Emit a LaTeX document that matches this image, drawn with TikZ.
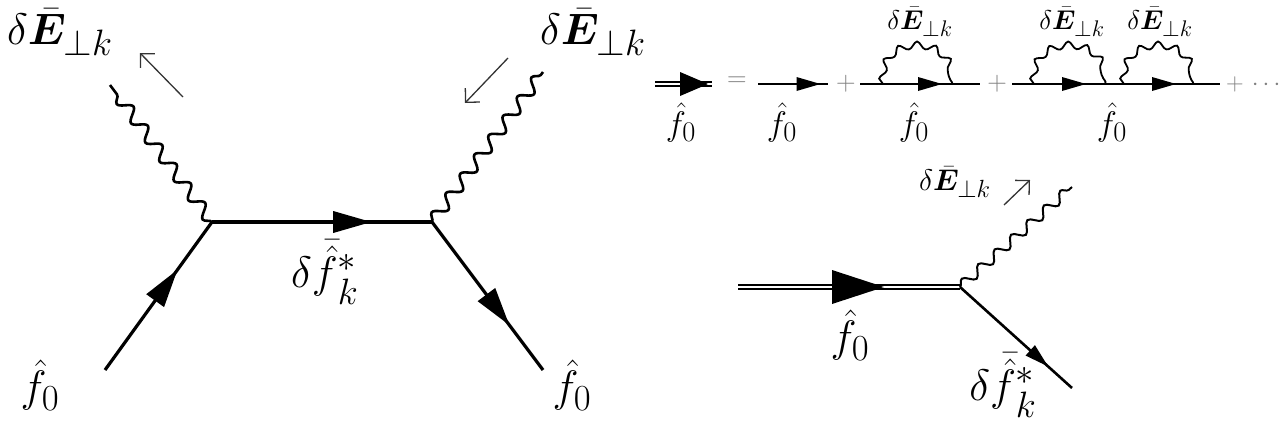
\documentclass[tikz,border=0pt]{standalone}
\usepackage{amsmath,bm}
\usetikzlibrary{arrows.meta,decorations.pathmorphing,decorations.markings}
\newcommand\dEk{\delta\bar{\bm{E}}_{\perp k}}
\newcommand\dFk{\delta\bar{\hat{f}}{}^{*}_{k}}
\newcommand\fz{\hat{f}_0}
\tikzset{
  fer/.style={line width=3.2pt,postaction={decorate},decoration={markings,mark=at position #1 with {\fill (-24pt,-11pt) -- (14pt,0pt) -- (-24pt,11pt) -- cycle;}}},
  ferS/.style={line width=2.2pt,postaction={decorate},decoration={markings,mark=at position #1 with {\fill (-14pt,-7pt) -- (10pt,0pt) -- (-14pt,7pt) -- cycle;}}},
  dbl/.style={double,double distance=2.5pt,line width=2pt},
  wav/.style={line width=2.6pt,decorate,decoration={snake,amplitude=6pt,segment length=24pt}},
  loopw/.style={line width=1.8pt,decorate,decoration={snake,amplitude=3.5pt,segment length=18pt}},
  thinar/.style={-{Straight Barb[length=10pt]},line width=1.3pt,gray!40!black},
  big/.style={font=\Huge,scale=1.77,transform shape},
  med/.style={font=\Huge,scale=1.37,transform shape},
  sml/.style={font=\Huge,scale=1.09,transform shape},
}
\begin{document}
\begin{tikzpicture}[x=1pt,y=-1pt]
\useasboundingbox (0,0) rectangle (1280,426);
% left diagram
\coordinate (A) at (212,222);
\coordinate (B) at (432,222);
\coordinate (LB) at (105,370);
\coordinate (RB) at (543,370);
\coordinate (LW) at (110,85);
\coordinate (RW) at (543,72);
\draw[fer=0.6] (LB) -- (A);
\draw[fer=0.66] (A) -- (B);
\draw[fer=0.62] (B) -- (RB);
\draw[wav] (A) -- (LW);
\draw[wav] (B) -- (RW);
\coordinate (a1s) at (183,97); \coordinate (a1e) at (140,53);
\coordinate (a2s) at (508,58); \coordinate (a2e) at (465,103);
\draw[thinar] (a1s) -- (a1e);
\draw[thinar] (a2s) -- (a2e);
\node[big] (l1) at (60,32) {$\dEk$};
\node[big] (l2) at (593,32) {$\dEk$};
\node[big] (l3) at (325,272) {$\dFk$};
\node[big] (l4) at (40,385) {$\fz$};
\node[big] (l5) at (572,385) {$\fz$};
% top right series
\coordinate (d1) at (655,84); \coordinate (d2) at (712,84);
\draw[dbl] (d1) -- (d2);
\fill (680,72) -- (708,84) -- (680,96) -- cycle;
\node[sml,gray] (eq) at (737,82) {$=$};
\coordinate (s1) at (758,84); \coordinate (s2) at (828,84);
\draw[ferS=0.75] (s1) -- (s2);
\node[sml,gray] (p1) at (846,84) {$+$};
\coordinate (t1) at (860,84); \coordinate (t2) at (980,84);
\draw[ferS=0.6] (t1) -- (t2);
\coordinate (t3) at (883,84); \coordinate (t4) at (952,84);
\draw[loopw] (t3) .. controls (880,38) and (955,38) .. (t4);
\node[sml,gray] (p2) at (997,84) {$+$};
\coordinate (u1) at (1012,84); \coordinate (u2) at (1220,84);
\draw[line width=2.2pt] (u1) -- (u2);
\fill (1062,77) -- (1086,84) -- (1062,91) -- cycle;
\fill (1152,77) -- (1176,84) -- (1152,91) -- cycle;
\coordinate (u3) at (1034,84); \coordinate (u4) at (1105,84);
\coordinate (u5) at (1124,84); \coordinate (u6) at (1193,84);
\draw[loopw] (u3) .. controls (1031,38) and (1108,38) .. (u4);
\draw[loopw] (u5) .. controls (1121,38) and (1196,38) .. (u6);
\node[sml,gray,anchor=west,inner sep=0pt,scale=0.9] (p3) at (1226,84) {$+\,\cdots$};
\node[sml] (e1) at (920,22) {$\dEk$};
\node[sml] (e2) at (1072,22) {$\dEk$};
\node[sml] (e3) at (1160,22) {$\dEk$};
\node[med] (g1) at (681,122) {$\fz$};
\node[med] (g2) at (782,122) {$\fz$};
\node[med] (g3) at (914,122) {$\fz$};
\node[med] (g4) at (1112,122) {$\fz$};
% bottom right
\coordinate (V) at (960,287);
\coordinate (W0) at (738,287);
\coordinate (WE) at (1072,187);
\coordinate (VE) at (1072,388);
\draw[dbl] (W0) -- (V);
\fill (832,270) -- (884,287) -- (832,304) -- cycle;
\draw[ferS=0.72,line width=2.6pt] (V) -- (VE);
\draw[line width=2pt,decorate,decoration={snake,amplitude=5pt,segment length=22pt}] (V) -- (WE);
\coordinate (b1s) at (1004,205); \coordinate (b1e) at (1030,180);
\draw[thinar] (b1s) -- (b1e);
\node[sml,scale=1.1] (h1) at (955,182) {$\dEk$};
\node[big] (h2) at (850,335) {$\fz$};
\node[big] (h3) at (1003,385) {$\dFk$};
\end{tikzpicture}
\end{document}
